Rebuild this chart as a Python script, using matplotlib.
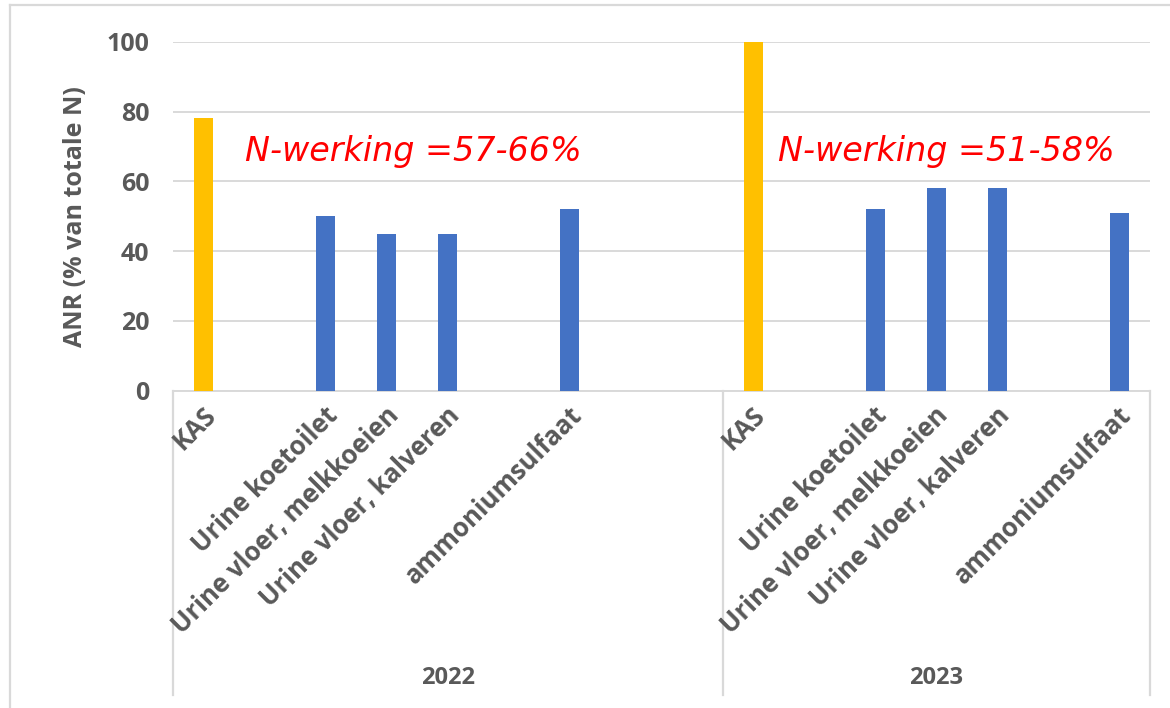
import numpy as np
import matplotlib
matplotlib.use("Agg")
import matplotlib.pyplot as plt
import matplotlib.transforms as mtransforms
from matplotlib.lines import Line2D

# data
years = ['2022', '2023']
cats_2022 = ['KAS', '', 'Urine koetoilet', 'Urine vloer, melkkoeien',
             'Urine vloer, kalveren', '', 'ammoniumsulfaat', '', '']
anr_2022 = [78, np.nan, 50, 45, 45, np.nan, 52, np.nan, np.nan]
cats_2023 = ['KAS', '', 'Urine koetoilet', 'Urine vloer, melkkoeien',
             'Urine vloer, kalveren', '', 'ammoniumsulfaat']
anr_2023 = [100, np.nan, 52, 58, 58, np.nan, 51]
notes = ['N-werking =57-66%', 'N-werking =51-58%']
yticks = [0, 20, 40, 60, 80, 100]

GRAY = '#595959'
GRID = '#d9d9d9'
FONT = ['Open Sans', 'DejaVu Sans']

cats = cats_2022 + cats_2023
vals = anr_2022 + anr_2023
x = np.arange(len(cats))
colors = ['#FFC000' if c == 'KAS' else '#4472C4' for c in cats]

fig = plt.figure(figsize=(11.7, 7.08), dpi=100)
ax = fig.add_axes([173/1170, 1 - 390.7/708, (1150-173)/1170, 349/708])

ax.bar(x, vals, width=0.31, color=colors, zorder=3)

ax.set_xlim(-0.5, len(cats) - 0.5)
ax.set_ylim(0, 100)
ax.set_yticks(yticks)
ax.set_yticklabels([str(v) for v in yticks], fontsize=18, fontweight='bold',
                   color=GRAY, family=FONT)
ax.yaxis.grid(True, color=GRID, linewidth=1.4, zorder=0)
ax.tick_params(axis='y', length=0, pad=17)
for s in ['top', 'right', 'left']:
    ax.spines[s].set_visible(False)
ax.spines['bottom'].set_color(GRID)
ax.spines['bottom'].set_linewidth(1.4)

# category labels
ax.set_xticks(x)
ax.set_xticklabels(cats, rotation=45, ha='right', va='center',
                   rotation_mode='anchor', fontsize=18.5, fontweight='bold',
                   color=GRAY, family=FONT)
ax.tick_params(axis='x', length=0, pad=15)
off = mtransforms.ScaledTranslation(8/100, 0, fig.dpi_scale_trans)
for lab in ax.get_xticklabels():
    lab.set_transform(lab.get_transform() + off)

ax.set_ylabel('ANR (% van totale N)', fontsize=18, fontweight='bold',
              color=GRAY, family=FONT)
ax.yaxis.set_label_coords(-0.087, 0.5)

# group separators and year labels
tr = ax.get_xaxis_transform()
bounds = [-0.5, len(cats_2022) - 0.5, len(cats) - 0.5]
for b in bounds:
    ax.add_line(Line2D([b, b], [0, -304/349], transform=tr, color=GRID,
                       linewidth=1.6, clip_on=False, zorder=0.5))
for i, yr in enumerate(years):
    ax.text((bounds[i] + bounds[i+1]) / 2, -287/349, yr, transform=tr,
            ha='center', va='center', fontsize=17, fontweight='bold',
            color=GRAY, family=FONT)

# annotations
ax.text(0.68, 65.8, notes[0], color='red', fontsize=24, style='italic',
        family='DejaVu Sans', zorder=4)
ax.text(9.41, 65.8, notes[1], color='red', fontsize=24, style='italic',
        family='DejaVu Sans', zorder=4)

# chart border (only top and left visible in the crop)
fig.add_artist(Line2D([10/1170, 1], [1 - 5/708, 1 - 5/708], color=GRID, linewidth=1.6))
fig.add_artist(Line2D([10/1170, 10/1170], [0, 1 - 5/708], color=GRID, linewidth=1.6))

fig.savefig('out.png', dpi=100)
